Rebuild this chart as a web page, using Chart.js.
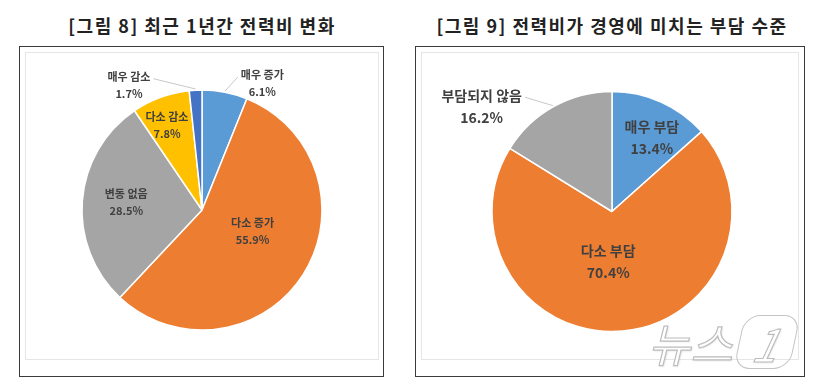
<!DOCTYPE html>
<html><head><meta charset="utf-8">
<script src="https://cdn.jsdelivr.net/npm/chart.js@4.4.1/dist/chart.umd.min.js"></script>
<style>
html,body{margin:0;padding:0;background:#fff;width:820px;height:387px;overflow:hidden;font-family:"Noto Sans CJK KR",sans-serif;}
.title{position:absolute;top:10px;font-weight:700;font-size:18px;letter-spacing:1.5px;color:#222;white-space:nowrap;transform:translateX(-50%);line-height:30px}
.box{position:absolute;border:1.5px solid #3a3a3a;box-sizing:border-box}
.inner{position:absolute;border:1px solid #e6e6e6;box-sizing:border-box}
canvas{position:absolute;top:0}
.wm{position:absolute;left:648px;top:312px;font-size:46px;font-style:italic;font-weight:400;color:#fff;-webkit-text-stroke:1.2px #bdbdbd;text-shadow:1px 1px 2px rgba(0,0,0,0.12);white-space:nowrap;line-height:60px}
.wm1{display:inline-block;margin-left:6px;padding:0 14px;border:1.5px solid #c4c4c4;border-radius:16px;transform:skewX(-12deg);line-height:52px}
</style></head><body>
<div class="title" style="left:202px">[그림 8] 최근 1년간 전력비 변화</div>
<div class="title" style="left:612px">[그림 9] 전력비가 경영에 미치는 부담 수준</div>
<div class="box" style="left:19px;top:46px;width:365px;height:331px"></div>
<div class="box" style="left:415px;top:46px;width:390px;height:331px"></div>
<div class="inner" style="left:25px;top:52px;width:354px;height:308px"></div>
<div class="inner" style="left:421px;top:52px;width:378px;height:308px"></div>
<canvas id="c1" width="410" height="387" style="left:0"></canvas>
<canvas id="c2" width="410" height="387" style="left:410px"></canvas>
<div class="wm">뉴스<span class="wm1">1</span></div>
<script>
// ---- data ----
const categories1 = ['매우 증가', '다소 증가', '변동 없음', '다소 감소', '매우 감소'];
const values1 = [6.1, 55.9, 28.5, 7.8, 1.7];
const categories2 = ['매우 부담', '다소 부담', '부담되지 않음'];
const values2 = [13.4, 70.4, 16.2];

// ---- styles / label placement ----
const colors1 = ['#5B9BD5', '#ED7D31', '#A5A5A5', '#FFC000', '#4472C4'];
const colors2 = ['#5B9BD5', '#ED7D31', '#A5A5A5'];
// [radial fraction at mid-angle, dx, dy, leader?]
const place1 = [[1.15, 34, 9, true], [0.5, 0, -11, false], [0.65, 2, -2, false], [0.75, -4, 0, false], [1.1, -66, 7, true]];
const place2 = [[0.65, 8, -3, false], [0.4, -8, 2, false], [1.1, -66, 10, true]];

const labelPlugin = {
  id: 'pieLabels',
  afterDatasetsDraw(chart, args, opts) {
    const ctx = chart.ctx;
    const meta = chart.getDatasetMeta(0);
    const ds = chart.data.datasets[0];
    ctx.save();
    meta.data.forEach((arc, i) => {
      const p = arc.getProps(['x', 'y', 'startAngle', 'endAngle', 'outerRadius'], true);
      const mid = (p.startAngle + p.endAngle) / 2;
      const pl = opts.place[i];
      const cx = p.x + Math.cos(mid) * p.outerRadius * pl[0] + pl[1];
      const cy = p.y + Math.sin(mid) * p.outerRadius * pl[0] + pl[2];
      ctx.font = 'bold ' + opts.size + 'px "Noto Sans CJK KR", sans-serif';
      if (pl[3]) {
        const w = ctx.measureText(chart.data.labels[i]).width;
        const ex = p.x + Math.cos(mid) * p.outerRadius * 1.01;
        const ey = p.y + Math.sin(mid) * p.outerRadius * 1.01;
        const sx = ex > cx ? cx + w / 2 + 3 : cx - w / 2 - 3;
        const sy = cy - opts.lh / 2 + 2;
        ctx.strokeStyle = '#c8c8c8';
        ctx.lineWidth = 1;
        ctx.beginPath();
        ctx.moveTo(sx, sy);
        ctx.lineTo(ex, ey);
        ctx.stroke();
      }
      ctx.fillStyle = '#404040';
      ctx.textAlign = 'center';
      ctx.textBaseline = 'middle';
      ctx.fillText(chart.data.labels[i], cx, cy - opts.lh / 2);
      ctx.fillText(ds.data[i].toFixed(1) + '%', cx, cy + opts.lh / 2);
    });
    ctx.restore();
  }
};

function makePie(id, labels, data, colors, place, size, lh, top) {
  return new Chart(document.getElementById(id), {
    type: 'pie',
    data: { labels: labels, datasets: [{ data: data, backgroundColor: colors, borderColor: '#ffffff', borderWidth: 1.5 }] },
    options: {
      responsive: false, animation: false, events: [],
      radius: 120,
      layout: { padding: { left: 0, right: 6, top: top, bottom: 0 } },
      plugins: { legend: { display: false }, tooltip: { enabled: false },
        pieLabels: { place: place, size: size, lh: lh } }
    },
    plugins: [labelPlugin]
  });
}
makePie('c1', categories1, values1, colors1, place1, 11, 17, 33);
makePie('c2', categories2, values2, colors2, place2, 14, 22, 36);
</script>
</body></html>
